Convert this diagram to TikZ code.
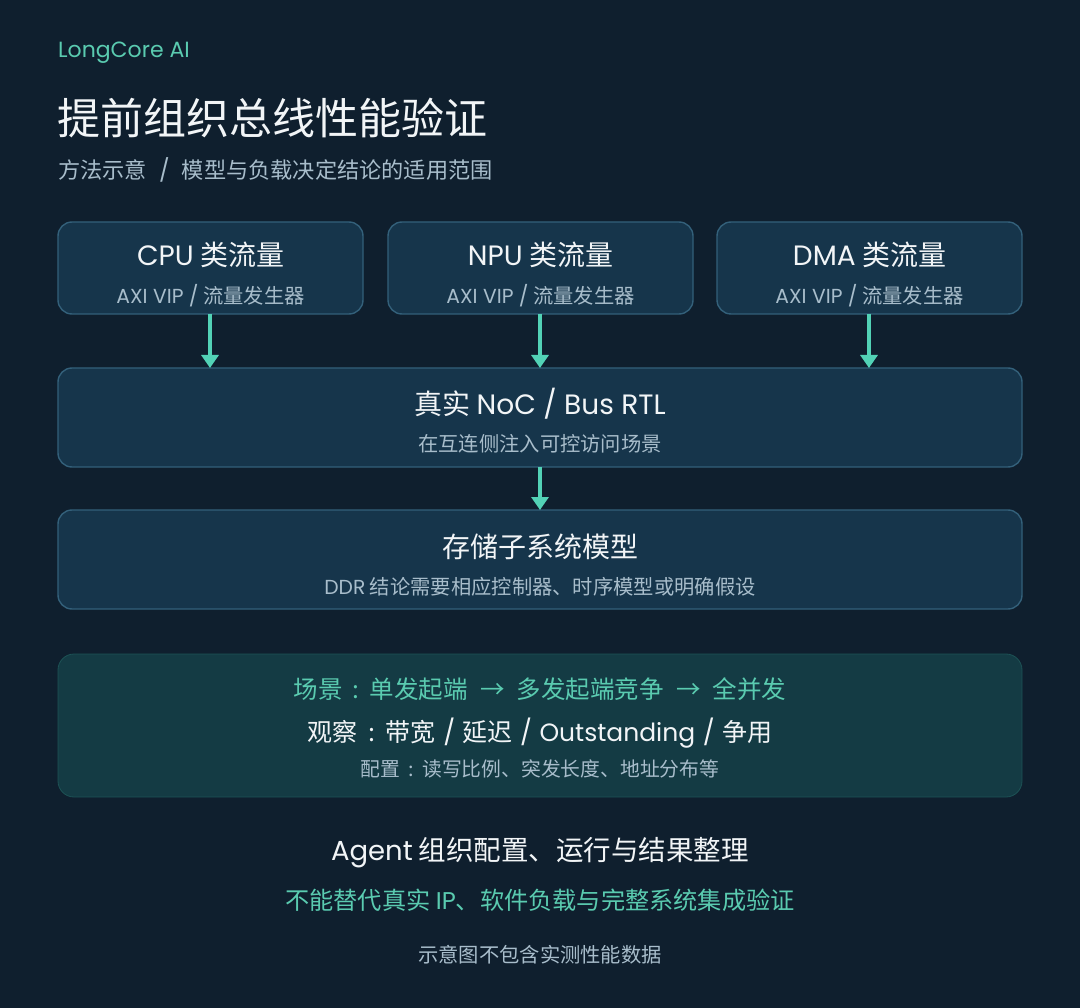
\documentclass[tikz,border=0pt]{standalone}
\usepackage{fontspec}
\setmainfont{Noto Sans CJK SC}
\newfontfamily\lat{Poppins}
\usetikzlibrary{arrows.meta}
\definecolor{bg}{HTML}{0F1F2E}
\definecolor{boxfill}{HTML}{16354B}
\definecolor{boxline}{HTML}{33607A}
\definecolor{greenfill}{HTML}{143B44}
\definecolor{tealarr}{HTML}{52D2B6}
\definecolor{tealtext}{HTML}{5ACBB0}
\definecolor{wht}{HTML}{F2F5F7}
\definecolor{subg}{HTML}{A8BDCB}
\newcommand{\fs}[1]{\fontsize{#1}{#1}\selectfont}
\newcommand{\cln}{\hspace{0.42em}:\hspace{0.42em}}
\newcommand{\arw}{\hspace{0.5em}→\hspace{0.5em}}
\newcommand{\sls}{\hspace{0.3em}{\lat /}\hspace{0.3em}}
\begin{document}
\begin{tikzpicture}[x=1pt,y=-1pt,
  box/.style={draw=boxline,line width=1.4pt,fill=boxfill,rounded corners=14pt,inner sep=0pt,outer sep=0pt},
  gbox/.style={draw=greenfill!85!tealarr,line width=0.8pt,fill=greenfill,rounded corners=16pt,inner sep=0pt,outer sep=0pt},
  ttl/.style={text=wht,font=\fs{28},inner sep=0pt},
  sub/.style={text=subg,font=\fs{20.3},inner sep=0pt},
  arr/.style={draw=tealarr,line width=3.5pt,-{Triangle[width=17pt,length=13pt]}},
  txt/.style={inner sep=0pt,anchor=west}]
\useasboundingbox[fill=bg] (0,0) rectangle (1080,1008);

% header
\node[txt,text=tealtext,font=\lat\fs{22}] (brand) at (58,53) {LongCore AI};
\node[txt,text=wht,font=\fs{43}] (title) at (57,118) {提前组织总线性能验证};
\node[txt,text=subg,font=\fs{22.2}] (subtitle) at (58,170) {方法示意\hspace{0.55em}{\lat /}\hspace{0.55em}模型与负载决定结论的适用范围};

% top boxes
\node[box,minimum width=305pt,minimum height=92pt] (cpu) at (210.5,268) {};
\node[box,minimum width=305pt,minimum height=92pt] (npu) at (540.5,268) {};
\node[box,minimum width=305pt,minimum height=92pt] (dma) at (869.5,268) {};
\node[ttl] (cput) at (210.5,255) {{\lat CPU} 类流量};
\node[sub] (cpus) at (210.5,296) {{\lat AXI VIP /} 流量发生器};
\node[ttl] (nput) at (540.5,255) {{\lat NPU} 类流量};
\node[sub] (npus) at (540.5,296) {{\lat AXI VIP /} 流量发生器};
\node[ttl] (dmat) at (869.5,255) {{\lat DMA} 类流量};
\node[sub] (dmas) at (869.5,296) {{\lat AXI VIP /} 流量发生器};

% NoC
\node[box,minimum width=964pt,minimum height=99pt] (noc) at (540,417.5) {};
\node[ttl] (noct) at (540,404) {真实 {\lat NoC / Bus RTL}};
\node[sub] (nocs) at (540,444) {在互连侧注入可控访问场景};

% storage
\node[box,minimum width=964pt,minimum height=99pt] (mem) at (540,559.5) {};
\node[ttl] (memt) at (540,547) {存储子系统模型};
\node[sub] (mems) at (540,587) {{\lat DDR} 结论需要相应控制器、时序模型或明确假设};

% arrows
\draw[arr] (cpu.south -| 210,0) -- (noc.north -| 210,0);
\draw[arr] (npu.south -| 540,0) -- (noc.north -| 540,0);
\draw[arr] (dma.south -| 869,0) -- (noc.north -| 869,0);
\draw[arr] (noc.south -| 540,0) -- (mem.north -| 540,0);

% scenario box
\node[gbox,minimum width=964pt,minimum height=143pt] (scen) at (540,725.5) {};
\node[inner sep=0pt,text=tealtext,font=\fs{24.5}] (scen1) at (540,689) {场景\cln 单发起端\arw 多发起端竞争\arw 全并发};
\node[inner sep=0pt,text=wht,font=\fs{25}] (scen2) at (540,733) {观察\cln 带宽\sls 延迟\sls{\lat Outstanding}\sls 争用};
\node[inner sep=0pt,text=subg,font=\fs{19.8}] (scen3) at (540,769) {配置\cln 读写比例、突发长度、地址分布等};

% footer
\node[inner sep=0pt,text=wht,font=\fs{27.5}] (agent) at (540,853) {{\lat Agent} 组织配置、运行与结果整理};
\node[inner sep=0pt,text=tealtext,font=\fs{24.2}] (limit) at (540,900) {不能替代真实 {\lat IP}、软件负载与完整系统集成验证};
\node[inner sep=0pt,text=subg,font=\fs{20.3}] (note) at (540,955) {示意图不包含实测性能数据};
\end{tikzpicture}
\end{document}
